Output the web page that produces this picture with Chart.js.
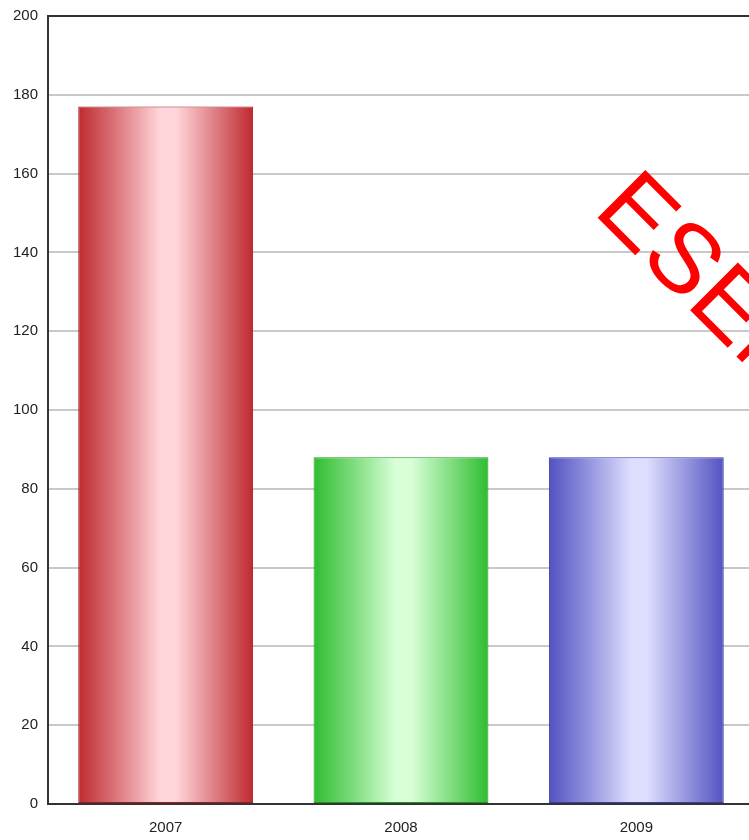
<!DOCTYPE html>
<html>
<head>
<meta charset="utf-8">
<style>
    html, body { margin: 0; padding: 0; background: #fff; overflow: hidden; }
    #wrap { width: 760px; height: 843px; position: relative; margin-top: -3px; }
</style>
<script src="https://cdn.jsdelivr.net/npm/chart.js@4/dist/chart.umd.min.js"></script>
</head>
<body>
<div id="wrap"><canvas id="chart"></canvas></div>
<script>
const years = ['2007', '2008', '2009'];
const values = [177, 88, 88];
const yTicks = [0, 20, 40, 60, 80, 100, 120, 140, 160, 180, 200];

// edge / centre colours of the shaded bars
const barEdges = ['#bf2a30', '#2fbd2f', '#5252c2'];
const barMids = ['#ffd6da', '#d8ffd8', '#dedeff'];
const barBorders = ['#a01c22', '#1f9a1f', '#3c3ca6'];

const BAR_PCT = 0.743;
const labelFont = "'Liberation Sans', Arial, sans-serif";

function shadedFill(ctx) {
    const chart = ctx.chart;
    const i = ctx.dataIndex;
    const xs = chart.scales.x;
    if (!chart.chartArea || !xs || i === undefined) {
        return barEdges[i % barEdges.length] || barEdges[0];
    }
    const centre = xs.getPixelForValue(i);
    const half = (xs.width / years.length) * BAR_PCT / 2;
    const blend = Chart.helpers.color(barEdges[i]).mix(Chart.helpers.color(barMids[i]), 0.55).rgbString();
    const g = chart.ctx.createLinearGradient(centre - half, 0, centre + half, 0);
    g.addColorStop(0, barEdges[i]);
    g.addColorStop(0.22, blend);
    g.addColorStop(0.47, barMids[i]);
    g.addColorStop(0.56, barMids[i]);
    g.addColorStop(0.8, blend);
    g.addColorStop(1, barEdges[i]);
    return g;
}

const watermark = {
    id: 'watermark',
    afterDraw(chart) {
        const c = chart.ctx;
        c.save();
        c.translate(592, 215);
        c.rotate(Math.PI / 4);
        c.fillStyle = '#ff0000';
        c.font = "98px 'Liberation Sans', Arial, sans-serif";
        c.textBaseline = 'alphabetic';
        c.fillText('ESEMPIO', 0, 0);
        c.restore();
    },
};

const frame = {
    id: 'frame',
    afterDatasetsDraw(chart) {
        const { left, right, top, bottom } = chart.chartArea;
        const c = chart.ctx;
        c.save();
        c.strokeStyle = '#333';
        c.lineWidth = 2;
        c.beginPath();
        c.moveTo(left, top);
        c.lineTo(right, top);
        c.lineTo(right, bottom);
        c.lineTo(left, bottom);
        c.closePath();
        c.stroke();
        c.restore();
    },
};

new Chart(document.getElementById('chart'), {
    type: 'bar',
    data: {
        labels: years,
        datasets: [{
            data: values,
            backgroundColor: shadedFill,
            borderColor: barBorders,
            borderWidth: 1,
            borderSkipped: false,
            barPercentage: BAR_PCT,
            categoryPercentage: 1,
        }],
    },
    options: {
        responsive: true,
        maintainAspectRatio: false,
        animation: false,
        layout: { padding: { top: 11, right: 6, left: 0, bottom: 0 } },
        plugins: {
            legend: { display: false },
            tooltip: { enabled: false },
        },
        scales: {
            x: {
                grid: { display: false },
                border: { display: false },
                ticks: {
                    color: '#222',
                    font: { family: labelFont, size: 15 },
                    padding: 7,
                },
                afterFit(scale) { scale.height = 36; },
            },
            y: {
                min: 0,
                max: 200,
                afterBuildTicks(scale) { scale.ticks = yTicks.map(v => ({ value: v })); },
                grid: {
                    color: '#c8c8c8',
                    lineWidth: 2,
                    drawTicks: false,
                },
                border: { display: false },
                ticks: {
                    color: '#222',
                    font: { family: labelFont, size: 15 },
                    padding: 10,
                },
                afterFit(scale) { scale.width = 48; },
            },
        },
    },
    plugins: [frame, watermark],
});
</script>
</body>
</html>
